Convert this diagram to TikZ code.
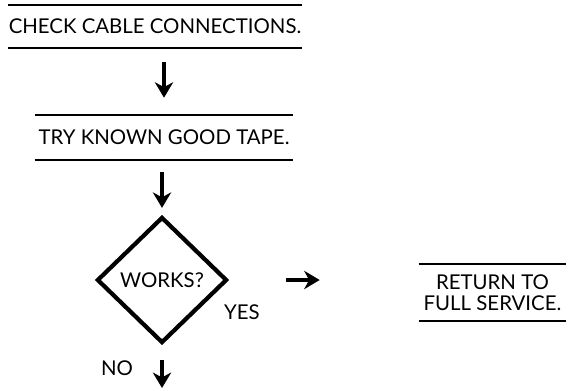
\documentclass[tikz,border=0pt]{standalone}
\usepackage{fontspec}
\setmainfont{Lato}
\usepackage{tikz}
\usetikzlibrary{arrows.meta, shapes.geometric, positioning}

\tikzset{
  label text/.style={font=\fontsize{14.5}{14.5}\selectfont, inner sep=0pt},
  ruled box/.style={label text, align=center},
  rule/.style={line width=1.6pt},
  flow/.style={line width=2.6pt, -{Stealth[length=11pt, width=13pt, inset=3.5pt]}},
  decision/.style={diamond, draw, line width=3pt, inner sep=0pt, label text,
    minimum width=3.25cm, minimum height=3.15cm},
}

\begin{document}
\begin{tikzpicture}[x=0.025cm, y=-0.025cm]
    \useasboundingbox (0,0) rectangle (570,390);

    % steps
    \node[ruled box, minimum width=7.25cm, minimum height=1.075cm] (check) at (155,26.5) {CHECK CABLE CONNECTIONS.};
    \draw[rule] (check.north west) -- (check.north east);
    \draw[rule] (check.south west) -- (check.south east);

    \node[ruled box, minimum width=6.45cm, minimum height=1.125cm] (tape) at (164,137.5) {TRY KNOWN GOOD TAPE.};
    \draw[rule] (tape.north west) -- (tape.north east);
    \draw[rule] (tape.south west) -- (tape.south east);

    \node[decision] (works) at (162,280) {WORKS?};

    \node[ruled box, minimum width=3.675cm, minimum height=1.425cm] (service) at (492.5,292.5) {RETURN TO\\FULL SERVICE.};
    \draw[rule] (service.north west) -- (service.north east);
    \draw[rule] (service.south west) -- (service.south east);

    \node[label text] (yes) at (242,312) {YES};
    \node[label text] (no) at (117,368) {NO};
    \coordinate (exit) at (162,388);

    % arrows
    \draw[flow, shorten <=0.35cm, shorten >=0.425cm] (tape.north |- check.south) -- (tape.north);
    \draw[flow, shorten <=0.3cm, shorten >=0.175cm] (works.north |- tape.south) -- (works.north);
    \draw[flow, shorten <=1.425cm, shorten >=2.475cm] (works.east) -- (works.east -| service.west);
    \draw[flow, shorten <=0.375cm] (works.south) -- (exit);
\end{tikzpicture}
\end{document}
